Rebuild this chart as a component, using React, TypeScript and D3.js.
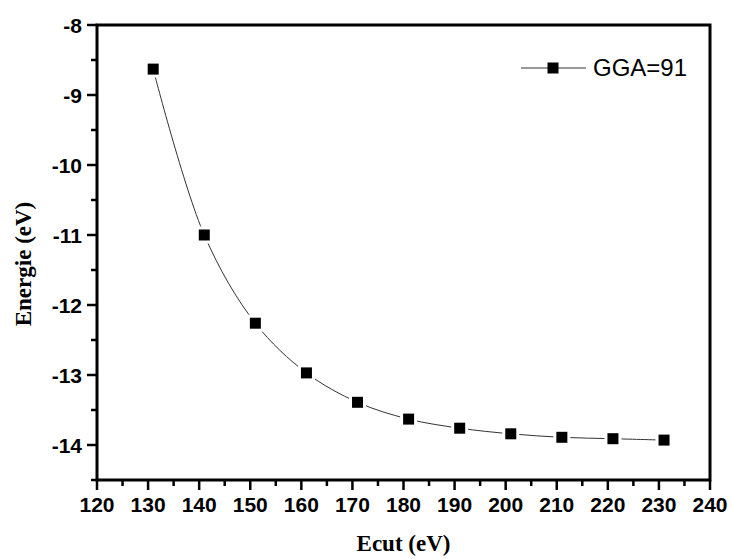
import React from 'react';
import * as d3 from 'd3';

const ecut = [131, 141, 151, 161, 171, 181, 191, 201, 211, 221, 231];
const energie = [-8.63, -11.0, -12.26, -12.97, -13.39, -13.63, -13.76, -13.84, -13.89, -13.91, -13.93];
const xTicks = [120, 130, 140, 150, 160, 170, 180, 190, 200, 210, 220, 230, 240];
const yTicks = [-8, -9, -10, -11, -12, -13, -14];
const seriesName = 'GGA=91';

const W = 732;
const H = 559;
const margin = { top: 25, right: 22, bottom: 79, left: 97 };
const width = W - margin.left - margin.right;
const height = H - margin.top - margin.bottom;

const sans = 'Arial, "Liberation Sans", sans-serif';
const serif = '"Times New Roman", "Liberation Serif", serif';

const App = () => {
  const x = d3.scaleLinear().domain([120, 240]).range([0, width]);
  const y = d3.scaleLinear().domain([-14.5, -8]).range([height, 0]);

  const xMinor = xTicks.slice(0, -1).map(t => t + 5);
  const yMinor = yTicks.map(t => t - 0.5);

  const pts = ecut.map((e, i) => ({ x: e, y: energie[i] }));
  const line = d3.line<{ x: number; y: number }>()
    .x(d => x(d.x)).y(d => y(d.y))
    .curve(d3.curveCatmullRom.alpha(0.5));

  const ms = 11;
  const lx = 521, ly = 68;

  return (
    <div style={{ position: 'absolute', left: 0, top: 0 }}>
      <svg width={W} height={H} style={{ display: 'block', background: '#fff' }}>
        <g transform={`translate(${margin.left}, ${margin.top})`}>
          {/* curve */}
          <path d={line(pts) || ''} fill="none" stroke="#333" strokeWidth={1} />
          {pts.map((d, i) => (
            <rect key={'g' + i} x={x(d.x) - ms / 2 - 3} y={y(d.y) - ms / 2 - 3}
              width={ms + 6} height={ms + 6} fill="#fff" />
          ))}
          {pts.map((d, i) => (
            <rect key={'p' + i} x={x(d.x) - ms / 2} y={y(d.y) - ms / 2}
              width={ms} height={ms} fill="#000" />
          ))}

          {/* minor ticks */}
          {xMinor.map(t => (
            <line key={'xm' + t} x1={x(t)} x2={x(t)} y1={height} y2={height + 6}
              stroke="#000" strokeWidth={2.5} />
          ))}
          {yMinor.map(t => (
            <line key={'ym' + t} x1={-6} x2={0} y1={y(t)} y2={y(t)}
              stroke="#000" strokeWidth={2.5} />
          ))}

          {/* major ticks + labels */}
          {xTicks.map(t => (
            <g key={'x' + t} transform={`translate(${x(t)}, ${height})`}>
              <line y1={0} y2={10} stroke="#000" strokeWidth={2.5} />
              <text y={32} textAnchor="middle" fontFamily={sans} fontWeight="bold"
                fontSize={21} fill="#000">{t}</text>
            </g>
          ))}
          {yTicks.map(t => (
            <g key={'y' + t} transform={`translate(0, ${y(t)})`}>
              <line x1={-10} x2={0} stroke="#000" strokeWidth={2.5} />
              <text x={-15} y={7.5} textAnchor="end" fontFamily={sans} fontWeight="bold"
                fontSize={21} fill="#000">{t}</text>
            </g>
          ))}

          {/* frame */}
          <rect x={0} y={0} width={width} height={height} fill="none" stroke="#000" strokeWidth={3} />
        </g>

        {/* legend */}
        <line x1={lx} x2={lx + 65} y1={ly} y2={ly} stroke="#333" strokeWidth={1} />
        <rect x={lx + 32 - ms / 2} y={ly - ms / 2} width={ms} height={ms} fill="#000" />
        <text x={lx + 72} y={ly + 8} fontFamily={sans} fontSize={24} fill="#000">{seriesName}</text>

        {/* axis titles */}
        <text x={margin.left + width / 2} y={551} textAnchor="middle" fontFamily={serif}
          fontWeight="bold" fontSize={23} fill="#000">Ecut (eV)</text>
        <text transform={`translate(31, 264) rotate(-90)`} textAnchor="middle"
          fontFamily={serif} fontWeight="bold" fontSize={23} fill="#000">Energie (eV)</text>
      </svg>
    </div>
  );
};

export default App;
